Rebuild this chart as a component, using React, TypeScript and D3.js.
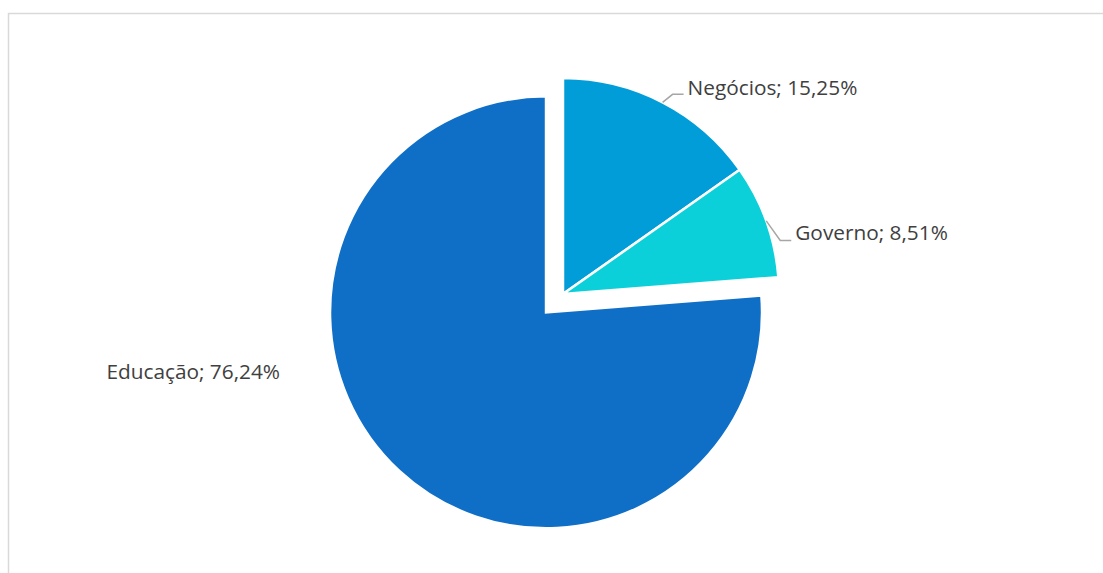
import React from "react";
import * as d3 from "d3";

const categories = ["Negócios", "Governo", "Educação"];
const values = [15.25, 8.51, 76.24];
const labels = ["Negócios; 15,25%", "Governo; 8,51%", "Educação; 76,24%"];
const colors = ["#009DD9", "#0BD0D9", "#0F6FC6"];
const explode = [0, 0, 25];

const W = 1103;
const H = 573;
const cx = 563;
const cy = 294;
const R = 216;
const FS = 20.8;

export default function App() {
  const pie = d3.pie<number>().sort(null).value((d) => d)(values);
  const arc = d3.arc<d3.PieArcDatum<number>>().innerRadius(0).outerRadius(R);

  return (
    <svg
      width={W}
      height={H}
      style={{ position: "absolute", left: 0, top: 0, background: "#fff" }}
      fontFamily="'Open Sans', 'Noto Sans', sans-serif"
    >
      <path d={`M8.5,${H} V13.5 H${W}`} fill="none" stroke="#d9d9d9" strokeWidth={1.5} />
      <g transform={`translate(${cx},${cy})`}>
        {pie.map((p, i) => {
          const mid = (p.startAngle + p.endAngle) / 2;
          const dx = Math.sin(mid) * explode[i];
          const dy = -Math.cos(mid) * explode[i];
          return (
            <path
              key={categories[i]}
              d={arc(p) || ""}
              transform={`translate(${dx},${dy})`}
              fill={colors[i]}
              stroke="#fff"
              strokeWidth={2.5}
              strokeLinejoin="miter"
            />
          );
        })}
        {pie.map((p, i) => {
          const mid = (p.startAngle + p.endAngle) / 2;
          const sx = Math.sin(mid) * R;
          const sy = -Math.cos(mid) * R;
          if (i === 0) {
            const ex = sx + 10, ey = sy - 8;
            return (
              <g key={"l" + i}>
                <polyline points={`${sx},${sy} ${ex},${ey} ${ex + 11},${ey}`} fill="none" stroke="#a6a6a6" strokeWidth={1.5} />
                <text x={ex + 15} y={ey + 0.5} fontSize={FS} fill="#404040">{labels[i]}</text>
              </g>
            );
          }
          if (i === 1) {
            const ex = sx + 14, ey = sy + 19.5;
            return (
              <g key={"l" + i}>
                <polyline points={`${sx},${sy} ${ex},${ey} ${ex + 11},${ey}`} fill="none" stroke="#a6a6a6" strokeWidth={1.5} />
                <text x={ex + 15} y={ey} fontSize={FS} fill="#404040">{labels[i]}</text>
              </g>
            );
          }
          return (
            <text key={"l" + i} x={280 - cx} y={379 - cy} fontSize={FS} fill="#404040" textAnchor="end">
              {labels[i]}
            </text>
          );
        })}
      </g>
    </svg>
  );
}
